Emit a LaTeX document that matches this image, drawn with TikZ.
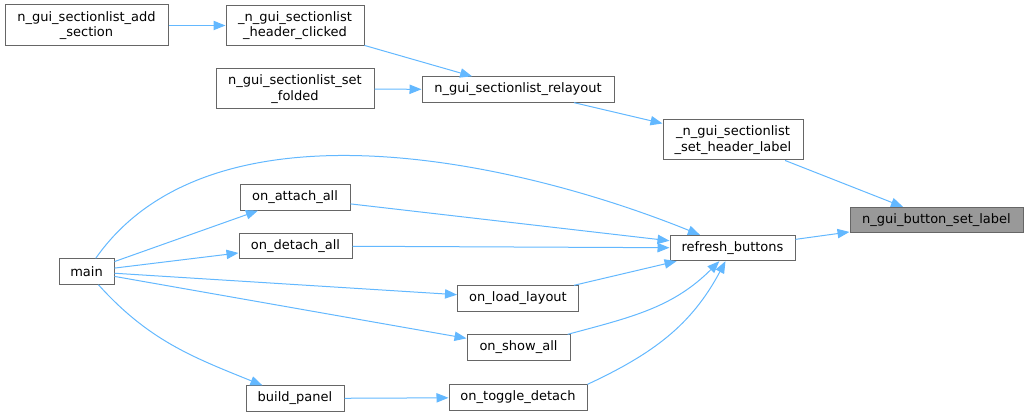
\documentclass[tikz,border=0pt]{standalone}
\usepackage{fontspec}
\setmainfont{DejaVu Sans}
\usepackage{tikz}
\usetikzlibrary{arrows.meta}

\definecolor{edgeblue}{HTML}{63B8FF}
\definecolor{boxgrey}{HTML}{666666}
\definecolor{hlgrey}{HTML}{999999}

\begin{document}
\begin{tikzpicture}[x=0.75pt, y=-0.75pt, ->, >={Triangle[length=9pt, width=7pt]},
		fn/.style={draw=boxgrey, fill=white, line width=0.75pt, inner sep=0pt, minimum height=19pt,
			align=center, font=\fontsize{9.75}{11.5}\selectfont},
		fntwo/.style={fn, minimum height=30pt},
		hl/.style={fn, fill=hlgrey},
		call/.style={color=edgeblue, line width=0.75pt}]
		\useasboundingbox (0, 0) rectangle (1028, 417);

		\node[fntwo, minimum width=122.25pt, minimum height=30.75pt] (addsec) at (86.5, 25.5) {n\_gui\_sectionlist\_add\\\_section};
		\node[fntwo, minimum width=103.5pt] (hdrclick) at (295, 25.5) {\_n\_gui\_sectionlist\\\_header\_clicked};
		\node[fntwo, minimum width=118.5pt] (setfold) at (295, 89) {n\_gui\_sectionlist\_set\\\_folded};
		\node[fn, minimum width=144pt] (relayout) at (518, 89.5) {n\_gui\_sectionlist\_relayout};
		\node[fntwo, minimum width=105pt] (sethdr) at (733, 140) {\_n\_gui\_sectionlist\\\_set\_header\_label};
		\node[hl, minimum width=129.75pt] (setlabel) at (936.5, 220) {n\_gui\_button\_set\_label};
		\node[fn, minimum width=93.75pt] (refresh) at (732.5, 248) {refresh\_buttons};
		\node[fn, minimum width=41.25pt] (main) at (86.5, 271.5) {main};
		\node[fn, minimum width=82.5pt] (attach) at (295, 197.5) {on\_attach\_all};
		\node[fn, minimum width=84.75pt] (detach) at (295.5, 246) {on\_detach\_all};
		\node[fn, minimum width=90.75pt] (load) at (518, 298.5) {on\_load\_layout};
		\node[fn, minimum width=77.25pt] (show) at (518.5, 347.5) {on\_show\_all};
		\node[fn, minimum width=73.5pt] (build) at (295, 398.5) {build\_panel};
		\node[fn, minimum width=103.5pt] (toggle) at (518, 397.5) {on\_toggle\_detach};

		\path[call] (addsec) edge (hdrclick)
			(hdrclick) edge (relayout)
			(setfold) edge (relayout)
			(relayout) edge (sethdr)
			(sethdr) edge (setlabel)
			(refresh) edge (setlabel)
			(main) edge[out=55, in=158, looseness=0.85] (refresh)
			(main) edge (attach)
			(main) edge (detach)
			(main) edge (load)
			(main) edge (show)
			(main) edge[out=-48, in=158] (build)
			(attach) edge (refresh)
			(detach) edge (refresh)
			(load) edge (refresh)
			(show) edge[out=15, in=-135] (refresh)
			(toggle.north east) edge[out=25, in=-118] (refresh)
			(build) edge (toggle);
	\end{tikzpicture}
\end{document}
